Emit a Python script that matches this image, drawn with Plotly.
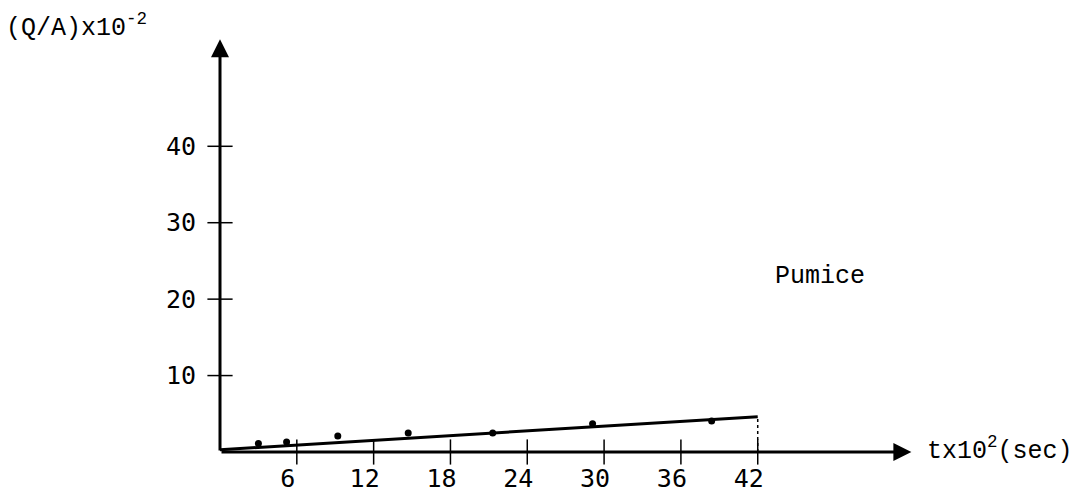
import plotly.graph_objects as go

# Data
t_pts = [3.0, 5.2, 9.2, 14.7, 21.3, 29.1, 38.4]      # t x 10^2 (sec)
qa_pts = [1.1, 1.3, 2.1, 2.5, 2.5, 3.7, 4.05]        # (Q/A) x 10^-2
fit_t = [0, 42]
fit_qa = [0.3, 4.6]
x_ticks = [6, 12, 18, 24, 30, 36, 42]
y_ticks = [10, 20, 30, 40]
x_arrow_end = 54
y_arrow_end = 54

TICKFONT = dict(family="DejaVu Sans Mono", size=25, color="black")
TEXTFONT = dict(family="Liberation Mono", size=25, color="black")
SUP = "<sup>{}</sup>"

fig = go.Figure()

# fitted line
fig.add_trace(go.Scatter(x=fit_t, y=fit_qa, mode="lines",
                         line=dict(color="black", width=3), hoverinfo="skip"))
# dotted drop line at the end of the fit
fig.add_trace(go.Scatter(x=[fit_t[-1], fit_t[-1]], y=[0, fit_qa[-1]], mode="lines",
                         line=dict(color="black", width=1.5, dash="dot"), hoverinfo="skip"))
# data points
fig.add_trace(go.Scatter(x=t_pts, y=qa_pts, mode="markers",
                         marker=dict(color="black", size=7), hoverinfo="skip"))
# tick marks crossing the axes
fig.add_trace(go.Scatter(x=x_ticks, y=[0] * len(x_ticks), mode="markers",
                         marker=dict(symbol="line-ns-open", size=18, color="black",
                                     line=dict(color="black", width=1.5)),
                         cliponaxis=False, hoverinfo="skip"))
fig.add_trace(go.Scatter(x=[0] * len(y_ticks), y=y_ticks, mode="markers",
                         marker=dict(symbol="line-ew-open", size=18, color="black",
                                     line=dict(color="black", width=1.5)),
                         cliponaxis=False, hoverinfo="skip"))

# axes with arrows
fig.add_annotation(x=x_arrow_end, y=0, ax=0, ay=0, xref="x", yref="y",
                   axref="x", ayref="y", showarrow=True, arrowhead=2,
                   arrowsize=1.2, arrowwidth=3, arrowcolor="black", text="")
fig.add_annotation(x=0, y=y_arrow_end, ax=0, ay=0, xref="x", yref="y",
                   axref="x", ayref="y", showarrow=True, arrowhead=2,
                   arrowsize=1.2, arrowwidth=3, arrowcolor="black", text="")

# texts
fig.add_annotation(x=0, y=1, xref="paper", yref="paper", xshift=-216, yshift=17,
                   xanchor="left", yanchor="top", showarrow=False,
                   text="(Q/A)x10" + SUP.format("-2"), font=TEXTFONT)
fig.add_annotation(x=43.2, y=23, xref="x", yref="y", xanchor="left",
                   yanchor="middle", showarrow=False, text="Pumice", font=TEXTFONT)
fig.add_annotation(x=55.1, y=0, xref="x", yref="y", xanchor="left",
                   yanchor="middle", yshift=3, showarrow=False,
                   text="tx10" + SUP.format("2") + "(sec)", font=TEXTFONT)

fig.update_layout(
    width=1088, height=493,
    margin=dict(l=220, r=23, t=24, b=41, autoexpand=False),
    paper_bgcolor="white", plot_bgcolor="white",
    showlegend=False,
    xaxis=dict(range=[0, 66], showgrid=False, zeroline=False, showline=False,
               tickmode="array", tickvals=x_ticks, ticktext=[str(v) for v in x_ticks],
               ticks="", tickfont=TICKFONT, ticklabelstandoff=9,
               ticklabelshift=-9, automargin=False),
    yaxis=dict(range=[0, 56], showgrid=False, zeroline=False, showline=False,
               tickmode="array", tickvals=y_ticks, ticktext=[str(v) for v in y_ticks],
               ticks="", tickfont=TICKFONT, ticklabelstandoff=23, automargin=False),
)

fig.write_html("out.html", config={"displayModeBar": False},
               post_script="document.body.style.margin='0';document.body.style.overflow='hidden';")
